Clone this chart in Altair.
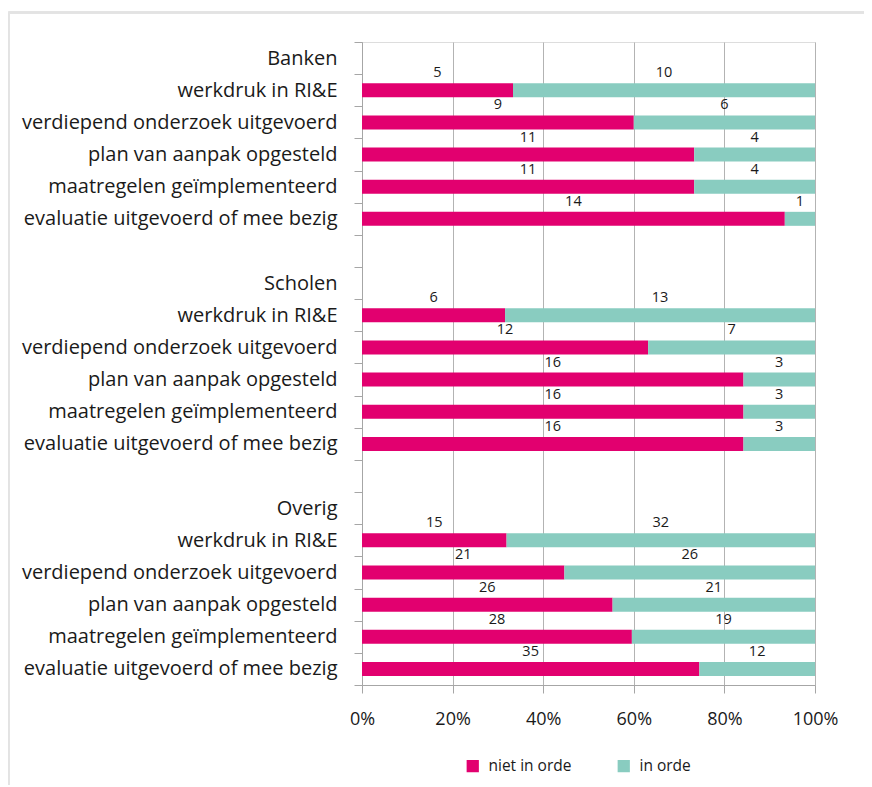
import altair as alt
import pandas as pd

groups = ["Banken", "Scholen", "Overig"]
items = [
    "werkdruk in RI&E",
    "verdiepend onderzoek uitgevoerd",
    "plan van aanpak opgesteld",
    "maatregelen geïmplementeerd",
    "evaluatie uitgevoerd of mee bezig",
]
niet_in_orde = {
    "Banken": [5, 9, 11, 11, 14],
    "Scholen": [6, 12, 16, 16, 16],
    "Overig": [15, 21, 26, 28, 35],
}
in_orde = {
    "Banken": [10, 6, 4, 4, 1],
    "Scholen": [13, 7, 3, 3, 3],
    "Overig": [32, 26, 21, 19, 12],
}
statuses = ["niet in orde", "in orde"]
colors = ["#E2006F", "#89CCC0"]

# build row order (group header, items, blank row)
row_order = []
rows = []
for gi, g in enumerate(groups):
    row_order.append(g + "|" + g)
    for i, it in enumerate(items):
        key = g + "|" + it
        row_order.append(key)
        rows.append({"row": key, "status": "niet in orde", "s": 0, "n": niet_in_orde[g][i]})
        rows.append({"row": key, "status": "in orde", "s": 1, "n": in_orde[g][i]})
    if gi < len(groups) - 1:
        row_order.append("gap" + str(gi) + "|")
df = pd.DataFrame(rows)

font = "Open Sans"

y_enc = alt.Y(
    "row:N",
    sort=row_order,
    scale=alt.Scale(domain=row_order, paddingInner=0, paddingOuter=0),
    axis=alt.Axis(
        title=None,
        tickBand="extent",
        tickSize=8,
        tickColor="#A6A6A6",
        domainColor="#A6A6A6",
        labelExpr="split(datum.value, '|')[1]",
        labelFont=font,
        labelFontSize=20,
        labelColor="#1a1a1a",
        labelPadding=17,
        labelLimit=400,
    ),
)

base = alt.Chart(df).transform_joinaggregate(
    total="sum(n)", groupby=["row"]
).transform_stack(
    stack="n", groupby=["row"], as_=["x0", "x1"], sort=[alt.SortField("s", order="ascending")]
).transform_calculate(
    p0="datum.x0 / datum.total",
    p1="datum.x1 / datum.total",
    pm="(datum.x0 + datum.x1) / 2 / datum.total",
)

x_scale = alt.Scale(domain=[0, 1], nice=False)

bars = base.mark_bar(size=14).encode(
    y=y_enc,
    x=alt.X(
        "p0:Q",
        scale=x_scale,
        axis=alt.Axis(
            title=None,
            values=[0, 0.2, 0.4, 0.6, 0.8, 1.0],
            format=".0%",
            grid=True,
            gridColor="#B3B3B3",
            tickColor="#A6A6A6",
            domainColor="#A6A6A6",
            tickSize=8,
            labelFlush=False,
            labelFont=font,
            labelFontSize=18,
            labelColor="#1a1a1a",
            labelPadding=17,
        ),
    ),
    x2="p1:Q",
    color=alt.Color(
        "status:N",
        scale=alt.Scale(domain=statuses, range=colors),
        legend=alt.Legend(
            title=None,
            orient="none",
            direction="horizontal",
            legendX=103,
            legendY=716,
            symbolType="square",
            symbolSize=150,
            symbolStrokeWidth=0,
            symbolOpacity=1,
            labelFont=font,
            labelFontSize=15.5,
            labelColor="#1a1a1a",
            columnPadding=44,
            labelOffset=8,
        ),
    ),
)

labels = base.mark_text(dy=-17, font=font, fontSize=14.5, color="#1a1a1a").encode(
    y=alt.Y("row:N", sort=row_order),
    x=alt.X("pm:Q", scale=x_scale),
    text="n:Q",
)

frame_v = alt.Chart(df).mark_rule(color="#E3E3E3", strokeWidth=1.5).encode(
    x=alt.value(-353.5), y=alt.value(-29.5), y2=alt.value(800)
)
frame_h = alt.Chart(df).mark_rule(color="#E3E3E3", strokeWidth=1.5).encode(
    x=alt.value(-353.5), x2=alt.value(560), y=alt.value(-29.5)
)

chart = alt.layer(frame_v, frame_h, bars, labels).properties(
    width=453,
    height=643,
    autosize=alt.AutoSizeParams(type="none"),
    padding={"left": 354, "top": 34, "right": 49, "bottom": 100},
).configure_view(stroke=None).configure(background="white")

chart.save("out.html", embed_options={"renderer": "svg", "actions": False})
